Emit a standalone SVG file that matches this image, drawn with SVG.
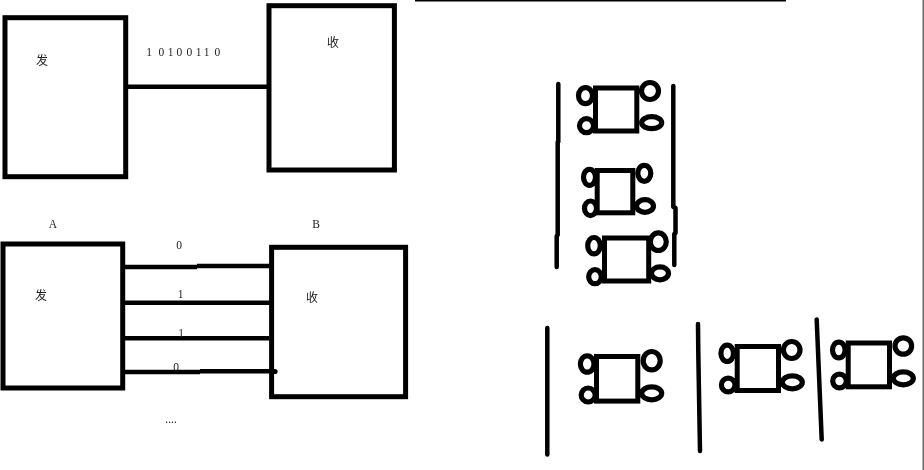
<svg xmlns="http://www.w3.org/2000/svg" width="924" height="470" viewBox="0 0 924 470">
<defs><filter id="soft" x="-20%" y="-20%" width="140%" height="140%"><feGaussianBlur stdDeviation="0.35"/></filter></defs>
<style>
.box{fill:#fff;stroke:#000;stroke-width:5}
.sq{fill:#fff;stroke:#000;stroke-width:5}
.o{fill:#fff;stroke:#000;stroke-width:5.2}
.w{fill:none;stroke:#000;stroke-width:4.5}
.bar{fill:none;stroke:#000;stroke-width:4.5;stroke-linecap:round;stroke-linejoin:round}
.t{font-family:"Liberation Serif","Noto Sans CJK SC",serif;font-size:11.5px;fill:#222;text-anchor:middle;filter:url(#soft)}
.c{font-family:"Noto Sans CJK SC","Liberation Serif",sans-serif;font-size:12px;fill:#222;text-anchor:middle;filter:url(#soft)}
</style>
<rect width="924" height="470" fill="#fff"/>
<g id="sender1"><rect class="box" x="5" y="17.7" width="120.7" height="159"/><text class="c" x="42" y="65">发</text></g>
<g id="receiver1"><rect class="box" x="269" y="5.7" width="125.4" height="164.3"/><text class="c" x="333" y="47">收</text></g>
<text id="bits" class="t" x="149 155 161.3 170.7 179.3 189.3 198.7 206.7 217.3" y="56">1 0100110</text>
<g id="labelA"><text class="t" x="53" y="228">A</text></g>
<g id="labelB"><text class="t" x="316" y="228">B</text></g>
<g id="sender2"><rect class="box" x="3" y="244" width="119.7" height="144"/><text class="c" x="41" y="300">发</text></g>
<g id="receiver2"><rect class="box" x="271.6" y="247.3" width="134" height="149.4"/><text class="c" x="312" y="302">收</text></g>
<g id="connectors">
<path class="w" d="M126 86.7H269"/>
<path class="w" d="M123 267H197M197 266H272"/>
<path class="w" d="M123 302.7H272"/>
<path class="w" d="M123 338.3H269"/>
<path class="w" d="M123 372H200M200 371.3H275"/>
<circle cx="275" cy="371.5" r="2.6"/>
</g>
<text class="t" x="179" y="249">0</text>
<text class="t" x="180.5" y="298">1</text>
<text class="t" x="181" y="337">1</text>
<text class="t" x="176" y="371">0</text>
<text class="t" x="171" y="423" font-size="8">....</text>
<path id="topline" d="M415 0.5H786" stroke="#000" stroke-width="2" fill="none"/>
<path id="edge" d="M923.2 0V470" stroke="#444" stroke-width="1.2" fill="none"/>
<g id="walls">
<path class="bar" d="M558.3 84V141.7L557.7 142V235L556.7 236V267"/>
<path class="bar" d="M673.3 86V206.7L675.5 208V233L674.3 234V265"/>
<path class="bar" d="M547.3 328V454.5"/>
<path class="bar" d="M698 324L698.3 353L700 451"/>
<path class="bar" d="M816.7 319.5L821.7 439.5"/>
</g>
<g id="car1">
<ellipse class="o" cx="585.5" cy="95.7" rx="7" ry="8"/><ellipse class="o" cx="586.5" cy="125.7" rx="7" ry="7"/><ellipse class="o" cx="650" cy="91" rx="8.5" ry="8.5"/><ellipse class="o" cx="651.7" cy="122.7" rx="10" ry="6"/>
<rect class="sq" x="595.5" y="88" width="41.3" height="43"/>
</g>
<g id="car2">
<ellipse class="o" cx="589.5" cy="177.3" rx="6" ry="8"/><ellipse class="o" cx="590.5" cy="208.3" rx="6" ry="7.3"/><ellipse class="o" cx="644.3" cy="173.3" rx="6.5" ry="8"/><ellipse class="o" cx="645" cy="206" rx="8.5" ry="6.3"/>
<rect class="sq" x="597.2" y="170.5" width="35.6" height="42.3"/>
</g>
<g id="car3">
<ellipse class="o" cx="594" cy="245.7" rx="6.3" ry="8.2"/><ellipse class="o" cx="595" cy="276.7" rx="6.3" ry="7"/><ellipse class="o" cx="658.3" cy="241.7" rx="8" ry="8.8"/><ellipse class="o" cx="660" cy="273.3" rx="8.5" ry="6.5"/>
<rect class="sq" x="604.5" y="238" width="44.2" height="43"/>
</g>
<g id="car4">
<ellipse class="o" cx="587.2" cy="364" rx="6.8" ry="8.2"/><ellipse class="o" cx="588.2" cy="395" rx="7" ry="7"/><ellipse class="o" cx="651.7" cy="360.7" rx="8.5" ry="9.2"/><ellipse class="o" cx="651.7" cy="393.3" rx="10" ry="6.5"/>
<rect class="sq" x="596.5" y="356.5" width="41.3" height="44.6"/>
</g>
<g id="car5">
<ellipse class="o" cx="727.2" cy="353.3" rx="6.3" ry="8.2"/><ellipse class="o" cx="728.2" cy="385" rx="6.8" ry="6.8"/><ellipse class="o" cx="791.7" cy="350" rx="8.3" ry="8.5"/><ellipse class="o" cx="792.3" cy="382.3" rx="10" ry="6.5"/>
<rect class="sq" x="737.2" y="346.5" width="41.3" height="44"/>
</g>
<g id="car6">
<ellipse class="o" cx="838.8" cy="350" rx="6.3" ry="7.8"/><ellipse class="o" cx="839.5" cy="381" rx="6.8" ry="6.8"/><ellipse class="o" cx="903.3" cy="346" rx="8.3" ry="8.2"/><ellipse class="o" cx="903.3" cy="378.3" rx="10" ry="6.5"/>
<rect class="sq" x="848.2" y="343" width="41.3" height="43.8"/>
</g>
</svg>
